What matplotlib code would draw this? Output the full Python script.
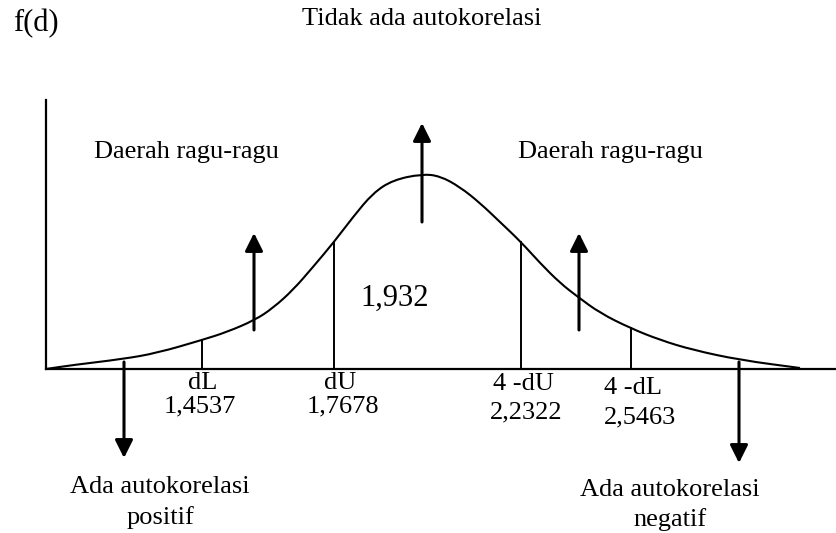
import numpy as np
import matplotlib
matplotlib.use("Agg")
import matplotlib.pyplot as plt
from matplotlib.path import Path
from matplotlib.patches import PathPatch

plt.rcParams['font.family'] = ['Liberation Serif', 'DejaVu Serif']

# Nilai kritis Durbin-Watson
crit_names = ["dL", "dU", "4 -dU", "4 -dL"]
crit_values = ["1,4537", "1,7678", "2,2322", "2,5463"]
dw_value = "1,932"

# Bentuk kurva f(d) (koordinat piksel)
curve_x = [46, 73, 123, 157, 202, 227, 255, 273, 293, 313, 334, 353, 373, 393,
           422, 440, 460, 480, 500, 521, 540, 560, 578, 600, 630, 660, 693, 740, 800]
curve_y = [369, 365, 359, 353, 340, 332, 320, 308, 290, 267, 242, 217, 193, 180,
           174, 176, 187, 203, 222, 242, 263, 283, 297, 313, 328, 340, 350, 360, 368]

# Tata letak (piksel)
base_y = 369
crit_x = [202, 334, 521, 631]
name_pos = [(203, 383), (340, 383), (523, 384), (633, 388)]
value_pos = [(200, 406), (343, 406), (526, 412), (640, 417)]

fig = plt.figure(figsize=(8.36, 5.33), dpi=100)
ax = fig.add_axes([0, 0, 1, 1])
ax.set_xlim(0, 836)
ax.set_ylim(533, 0)
ax.axis("off")

# sumbu
ax.plot([46, 46], [100, base_y], color="black", lw=1.6)
ax.plot([46, 836], [base_y, base_y], color="black", lw=1.6)

# kurva (dihaluskan dengan kurva Bezier kuadrat lewat titik tengah)
pts = np.column_stack([curve_x, curve_y]).astype(float)
mids = (pts[:-1] + pts[1:]) / 2
verts = [pts[0], mids[0]]
codes = [Path.MOVETO, Path.LINETO]
for i in range(1, len(pts) - 1):
    verts += [pts[i], mids[i]]
    codes += [Path.CURVE3, Path.CURVE3]
verts.append(pts[-1])
codes.append(Path.LINETO)
ax.add_patch(PathPatch(Path(verts, codes), fill=False, edgecolor="black", lw=1.5))

# garis nilai kritis
for x in crit_x:
    top = np.interp(x, curve_x, curve_y)
    ax.plot([x, x], [base_y, top], color="black", lw=1.4)

# label nilai kritis
for name, val, (nx, ny), (vx, vy) in zip(crit_names, crit_values, name_pos, value_pos):
    ax.text(nx, ny, name, ha="center", va="center", fontsize=19)
    ax.text(vx, vy, val, ha="center", va="center", fontsize=19)

# panah
arrows = [
    ((124, 362), (124, 458)),
    ((254, 330), (254, 233)),
    ((422, 222), (422, 123)),
    ((579, 330), (579, 233)),
    ((739, 362), (739, 463)),
]
for (x0, y0), (x1, y1) in arrows:
    ax.annotate("", xy=(x1, y1), xytext=(x0, y0),
                arrowprops=dict(arrowstyle="-|>,head_length=0.9,head_width=0.45",
                                color="black", lw=2.2, shrinkA=0, shrinkB=0,
                                mutation_scale=12))

# teks
ax.text(36, 24, "f(d)", ha="center", va="center", fontsize=22)
ax.text(422, 19, "Tidak ada autokorelasi", ha="center", va="center", fontsize=19)
ax.text(186, 152, "Daerah ragu-ragu", ha="center", va="center", fontsize=19)
ax.text(610, 152, "Daerah ragu-ragu", ha="center", va="center", fontsize=19)
ax.text(395, 298, dw_value, ha="center", va="center", fontsize=22)
ax.text(160, 487, "Ada autokorelasi", ha="center", va="center", fontsize=19)
ax.text(160, 518, "positif", ha="center", va="center", fontsize=19)
ax.text(670, 490, "Ada autokorelasi", ha="center", va="center", fontsize=19)
ax.text(670, 520, "negatif", ha="center", va="center", fontsize=19)

fig.savefig("out.png", dpi=100)
